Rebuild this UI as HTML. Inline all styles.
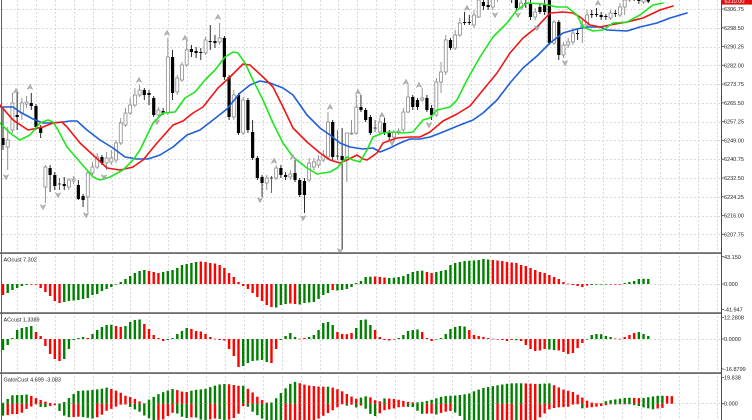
<!DOCTYPE html>
<html><head><meta charset="utf-8">
<style>
html,body{margin:0;padding:0;background:#fff;}
body{width:752px;height:420px;overflow:hidden;}
svg{display:block;font-family:"Liberation Sans",sans-serif;}
</style></head><body>
<svg id="c" width="752" height="420" viewBox="0 0 752 420" xmlns="http://www.w3.org/2000/svg">
<rect width="752" height="420" fill="#fff"/>
<g id="grid" stroke="#dadada" stroke-width="1" stroke-dasharray="2,2" fill="none"></g>
<g id="cand"></g>
<g id="lines" fill="none" stroke-width="1.6" stroke-linejoin="round" stroke-linecap="round"></g>
<g id="frac" fill="#b4b4b4" stroke="#8c8c8c" stroke-width="0.4"></g>
<g id="hist"></g>
<g id="frame">
  <rect x="0" y="252.2" width="721.5" height="1.8" fill="#6e6e6e"/>
  <rect x="0" y="312.2" width="721.5" height="1.8" fill="#6e6e6e"/>
  <rect x="0" y="372.2" width="721.5" height="1.8" fill="#6e6e6e"/>
  <rect x="1" y="0" width="1" height="420" fill="#606060"/>
  <rect x="721" y="0" width="1" height="420" fill="#4a4a4a"/>
  <path id="ticks" stroke="#4a4a4a" stroke-width="0.8" fill="none" d=""/>
  <rect x="721.5" y="-4" width="31" height="8.6" fill="#e01010"/>
</g>
<g font-size="5.5" fill="#222">
  <text x="724.5" y="2.8" fill="#fff">6310.00</text>
  <text x="724" y="11">6306.75</text>
  <text x="724" y="29.8">6298.50</text>
  <text x="724" y="48.6">6290.25</text>
  <text x="724" y="67.3">6282.00</text>
  <text x="724" y="86.1">6273.75</text>
  <text x="724" y="104.9">6265.50</text>
  <text x="724" y="123.7">6257.25</text>
  <text x="724" y="142.4">6249.00</text>
  <text x="724" y="161.2">6240.75</text>
  <text x="724" y="180">6232.50</text>
  <text x="724" y="198.8">6224.25</text>
  <text x="724" y="217.5">6216.00</text>
  <text x="724" y="236.3">6207.75</text>
  <text x="724" y="258.8">43.150</text>
  <text x="724" y="286">0.000</text>
  <text x="724" y="311.4">-41.947</text>
  <text x="724" y="319.6">12.2808</text>
  <text x="724" y="341">0.0000</text>
  <text x="724" y="371">-16.8799</text>
  <text x="724" y="379.6">19.838</text>
  <text x="724" y="405.7">0.000</text>
  <text x="3.5" y="261.5">AOcust 7.302</text>
  <text x="3.5" y="321.5">ACcust 1.3389</text>
  <text x="3.5" y="381.5">GatorCust 4.699 -3.083</text>
</g>
</svg>
<script>
(function(){
const NS="http://www.w3.org/2000/svg";
function el(p,t,a){const e=document.createElementNS(NS,t);for(const k in a)e.setAttribute(k,a[k]);p.appendChild(e);return e;}
const X=i=>3+4.71*i;
const grid=document.getElementById('grid');
let d="";
for(let k=0;k<=12;k++){const y=Math.round(9+18.775*k)+0.5;d+="M2 "+y+"H721";}
for(let x=17;x<720;x+=18.91){const xx=Math.round(x)+0.5;d+="M"+xx+" 0V420";}
d+="M2 284.5H721M2 339.5H721M2 403.5H721";
el(grid,'path',{d:d});
let td="";
[9,27.8,46.6,65.3,84.1,102.9,121.7,140.4,159.2,178,196.8,215.5,234.3,256.7,284,309.5,317.6,339,369,377.5,403.7].forEach(y=>{td+="M721.5 "+y+"H724";});
document.getElementById('ticks').setAttribute('d',td);

const C=[
[138,145,107,150],[147,140,127,170],[130,103,93,133],[115,117,92,130],[113,103,98,120],
[104,102,96,108],[103,106,93,110],[106,127,104,130],[127,133,125,138],[187,167,165,203],
[168,175,165,192],[175,186,172,190],[184,184,178,190],[184,186,177,190],[187,180,178,190],
[181,179,176,184],[185,199,180,200],[196,200,194,207],[197,173,170,212],[173,167,162,175],
[167,157,153,169],[157,163,155,165],[163,158,152,170],[162,158,150,165],[160,143,140,163],
[143,123,118,145],[125,113,108,127],[113,105,98,115],[105,95,88,107],[95,90,85,97],
[90,95,88,100],[93,95,90,105],[98,115,96,117],[115,110,107,117],[111,113,108,115],
[113,57,38,115],[57,93,50,100],[92,78,75,95],[80,65,62,82],[65,50,40,67],
[49,52,45,57],[51,53,47,58],[52,53,48,60],[53,40,37,55],[41,42,25,50],
[41,43,35,48],[42,38,23,45],[38,77,36,80],[77,117,75,120],[117,95,90,120],
[95,133,93,135],[133,100,97,135],[100,130,98,133],[132,158,120,160],[158,178,156,180],
[177,183,175,197],[183,178,175,190],[178,178,176,193],[178,168,165,180],[168,175,165,178],
[175,177,172,180],[177,174,170,180],[173,180,160,182],[180,195,178,197],[181,195,178,213],
[180,163,158,182],[167,162,158,170],[165,160,155,168],[160,155,150,162],[157,122,112,160],
[122,157,120,160],[156,156,130,160],[156,160,128,250],[160,133,133,182],[134,133,120,135],
[133,107,95,135],[107,110,95,112],[110,120,108,122],[117,133,115,135],[128,128,120,132],
[132,122,118,135],[123,133,118,135],[133,137,130,140],[137,132,130,142],[133,131,128,135],
[130,112,108,132],[112,97,85,113],[97,107,95,110],[100,107,98,110],[100,98,88,102],
[98,110,95,112],[108,115,105,120],[115,82,78,117],[82,72,62,93],[72,40,35,75],
[40,48,38,50],[48,35,30,50],[35,23,18,37],[22,23,12,25],[22,23,15,25],
[25,15,10,28],[17,0,-5,18],[2,6,-3,10],[5,7,0,10],[7,-2,-8,10],
[-2,-8,-14,2],[-8,-15,-20,-5],[-15,-8,-18,-4],[-8,0,-10,3],[0,8,-4,11],
[8,3,0,10],[3,4,0,8],[3,17,0,20],[17,12,8,20],[7,12,3,14],
[5,12,0,15],[0,43,-5,45],[43,22,20,45],[22,55,20,60],[55,45,42,58],
[45,42,38,48],[42,33,28,45],[33,34,28,40],[27,25,20,43],[25,15,10,27],
[14,15,10,18],[14,15,8,17],[15,17,12,20],[16,17,14,20],[18,13,10,20],
[13,14,10,17],[15,7,3,17],[7,0,-3,15],[0,-6,-10,2],[-6,-2,-10,1],
[-2,1,-5,4],[2,-3,-6,4],[-3,1.6,-5,3]
];
const cg=document.getElementById('cand');
C.forEach((c,i)=>{
  const x=X(i),[o,cl,h,l]=c;
  const up=cl<o, dn=cl>o;
  const wc=up?"#8a8a8a":(dn?"#111":"#555");
  el(cg,'line',{x1:x,y1:h,x2:x,y2:l,stroke:wc,'stroke-width':0.9});
  if(up){el(cg,'rect',{x:x-1.5,y:cl,width:3,height:Math.max(o-cl,0.8),fill:"#fff",stroke:"#8a8a8a",'stroke-width':0.8});}
  else if(dn){el(cg,'rect',{x:x-1.6,y:o,width:3.2,height:Math.max(cl-o,0.8),fill:"#000"});}
  else{el(cg,'line',{x1:x-1.6,y1:o,x2:x+1.6,y2:o,stroke:"#333",'stroke-width':0.9});}
});

const blue=[[0,107],[13,107],[20,112],[33,119],[43,123],[53,123],[63,122],[70,121],[77,121],[87,130],[100,140],[113,148],[125,157],[137,159],[148,159],[160,155],[173,147],[187,135],[200,130],[213,120],[227,109],[240,93],[250,85],[260,81],[270,83],[283,88],[293,95],[307,115],[320,128],[330,135],[340,143],[350,147],[363,149],[373,148],[380,152],[390,148],[400,143],[410,139],[420,139],[430,137],[443,132],[460,125],[473,120],[483,113],[497,100],[510,83],[523,68],[537,56],[550,43],[563,33],[577,29],[587,27],[600,27],[607,30],[627,31],[640,27],[657,23],[670,18],[687,13]];
const red=[[0,105],[13,120],[28,130],[43,127],[53,123],[62,122],[67,127],[80,143],[93,155],[107,168],[120,170],[133,167],[143,160],[157,143],[173,125],[183,121],[193,113],[203,107],[218,88],[230,77],[243,64],[250,65],[263,77],[273,87],[283,107],[293,128],[307,142],[320,153],[330,160],[340,163],[347,160],[357,155],[363,159],[367,160],[377,153],[383,143],[397,138],[410,137],[420,137],[430,132],[443,121],[457,114],[470,106],[483,90],[497,73],[510,53],[523,38],[537,27],[550,13],[563,12],[573,13],[580,17],[590,25],[600,27],[610,25],[627,22],[643,18],[660,10],[673,6]];
const green=[[0,123],[10,133],[20,140],[30,135],[40,123],[48,120],[53,122],[58,130],[67,147],[80,162],[93,177],[100,180],[110,177],[123,170],[133,160],[140,150],[153,123],[163,113],[175,112],[185,98],[195,92],[205,80],[215,70],[225,57],[233,52],[238,53],[245,63],[253,80],[263,100],[273,123],[283,143],[293,157],[307,168],[317,174],[330,172],[337,168],[347,157],[353,160],[360,162],[367,150],[373,137],[383,133],[393,132],[403,133],[413,132],[423,120],[430,118],[437,110],[450,107],[457,100],[467,80],[480,57],[493,37],[507,23],[517,10],[527,3],[543,4],[557,7],[567,7],[577,15],[583,27],[593,31],[603,30],[613,23],[627,22],[640,15],[653,5],[663,3]];
const lg=document.getElementById('lines');
[[blue,"#1e5ed8"],[red,"#f01414"],[green,"#1ee61e"]].forEach(([p,col])=>{
  el(lg,'polyline',{points:p.map(q=>q[0]+","+q[1]).join(" "),stroke:col});
});

const fg=document.getElementById('frac');
const upF=[[16,91],[30,87],[139,80],[167,33],[185,38],[218,17],[274,161],[293,157],[330,107],[358,92],[382,115],[406,82],[419,85],[467,8],[598,3]];
const dnF=[[6,177],[43,207],[58,195],[86,215],[104,177],[157,122],[260,200],[303,218],[340,251],[392,143],[429,125],[495,15],[518,15],[537,28],[565,63]];
upF.forEach(([x,y])=>el(fg,'path',{d:`M${x} ${y-2.8}L${x+2.8} ${y+2.4}L${x} ${y+1}L${x-2.8} ${y+2.4}Z`}));
dnF.forEach(([x,y])=>el(fg,'path',{d:`M${x} ${y+2.8}L${x+2.8} ${y-2.4}L${x} ${y-1}L${x-2.8} ${y-2.4}Z`}));

const G="#008000",R="#ff0000";
const hg=document.getElementById('hist');
function bars(vals,cols,zero,minY,maxY){
  vals.forEach((v,i)=>{
    const x=X(i);let y1=zero,y2=zero-v;
    let top=Math.min(y1,y2),bot=Math.max(y1,y2);
    top=Math.max(top,minY);bot=Math.min(bot,maxY);
    const h=Math.max(bot-top,0.6);
    el(hg,'rect',{x:x-1.2,y:top,width:2.4,height:h,fill:cols[i]=='g'?G:R});
  });
}
const AO=[-11,-9,-6,-4,-2,-1,-0.5,-0.7,-4,-8,-12,-17,-19,-18,-17,-16.5,-16,-15,-14,-11,-10,-7,-5,-3,-0.5,2,5,8,11,13,14,13,12,11,12,13,14,16,19,20,21,22,22.5,22,21,20.5,19,16,11,7,2,-2,-5,-9,-13,-17,-21,-23,-23.5,-21,-20,-19.5,-20,-20.5,-19,-18.5,-18,-15,-11,-9,-6,-6.5,-6,-5,-3,1,3,7,7.3,7.5,7,6.5,6,6.3,7,8,10,12,13,13.3,12,11,12,13,14,19,21,22,23,23.3,23.6,24,25,24.5,24,23.5,23,22,21.5,21,19,18,16,14,12,11,9,7,5,2,0.3,-1,-2,-3,-1.5,-1,-0.5,-0.3,-0.4,-0.5,-0.6,-0.3,1,2,3,5,5.3,5];
const AOc="rggggg"+"rrrrrrr"+"gggggggggggg"+"gggggg"+"rrr"+"gggggggg"+"rrrrrrrrrrrrrrrr"+"ggg"+"rr"+"ggggggg"+"r"+"gggggggg"+"rrr"+"gggggggg"+"rr"+"gggggggggggg"+"rrrrrrrrrrrrrrrrrrrrr"+"gggg"+"rrr"+"gggggg"+"r";
const AC=[-11,-6,1,9,11,12,13,7,3,-7,-15,-20,-22,-20,-10,-1,1,2,1,5,9,12,14,14.3,13,12,13,17,19,19.5,15,10,4,1,-2,-1,1,5,8,11,10,8,7.5,5,2,0.3,-1,-1.5,-10,-17,-28,-27,-24,-22,-21.5,-21,-23,-24,-10,-1,3,6,2,0.3,1,2,4,9,16,17,14,7,5,4.8,6,11,19,19.5,14,9,2,-1,-1.5,-0.5,1,4,8,9,9.5,7,1,-2,-0.5,1,5,10,12,13,12.5,9,4,3,2,1,0.2,-0.5,-1,-2,-1,-1.2,-2,-6,-10,-12,-11.5,-10,-10.5,-11,-11.5,-13,-15,-14,-9,-4,-0.5,4,5,4.8,3,2,0.5,0.2,2,4,6,7,5,3];
const ACc="ggggggg"+"rrrrrr"+"ggggg"+"r"+"ggggg"+"rr"+"gggg"+"rrrrr"+"ggggg"+"rrrrrrrrrrr"+"gggggg"+"rr"+"gggg"+"rr"+"gggggg"+"rrrr"+"gggg"+"rrrrr"+"ggggg"+"rrr"+"ggggggg"+"rrrrrrrrrr"+"g"+"rrrrrr"+"gg"+"rrrrrr"+"gggggg"+"rrrrr"+"gggg"+"rr";
bars(AO,AOc,284,255,311.5);
bars(AC,ACc,339,314.5,371.5);

function interp(p,x){if(x<p[0][0]||x>p[p.length-1][0])return null;for(let k=1;k<p.length;k++){if(x<=p[k][0]){const a=p[k-1],b=p[k];return a[1]+(b[1]-a[1])*(x-a[0])/(b[0]-a[0]);}}return null;}
const F=0.68,Z=403.7;let pu=null,pl=null;
for(let i=0;i<=143;i++){
  const x=X(i);if(x>674)break;
  const b=interp(blue,x),r=interp(red,x),g=interp(green,x);
  if(b!=null&&r!=null){
    const u=Math.abs(b-r)*F;
    const col=(pu==null||u>=pu)?G:R;pu=u;
    const top=Math.max(Z-u,375);
    el(hg,'rect',{x:x-1.2,y:top,width:2.4,height:Math.max(Z-top,0.6),fill:col});
  }
  if(r!=null&&g!=null){
    const lo=Math.abs(r-g)*F;
    const col=(pl==null||lo>=pl)?G:R;pl=lo;
    el(hg,'rect',{x:x-1.2,y:Z,width:2.4,height:Math.max(lo,0.6),fill:col});
  }
}
})();
</script>
</body></html>
